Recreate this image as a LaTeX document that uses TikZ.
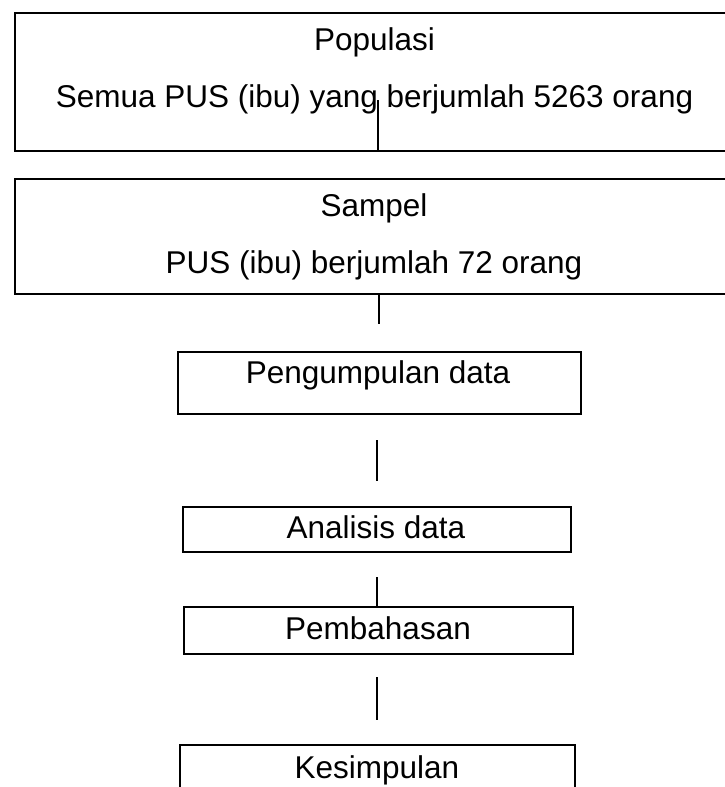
\documentclass[tikz,border=0pt]{standalone}
\usepackage{fontspec}
\setmainfont{Liberation Sans}
\begin{document}
\begin{tikzpicture}[x=1pt,y=-1pt,
  boxst/.style={draw=black,line width=1.8pt,rectangle,inner sep=0pt,anchor=north west},
  txt/.style={anchor=base,inner sep=0pt,font=\fontsize{31.5}{38}\selectfont},
  conn/.style={draw=black,line width=1.4pt}]
\useasboundingbox (0,0) rectangle (724,787);
% boxes
\node[boxst,minimum width=720pt,minimum height=138pt] (pop) at (14,12) {};
\node[boxst,minimum width=720pt,minimum height=115pt] (sam) at (14,178) {};
\node[boxst,minimum width=403pt,minimum height=62pt] (peng) at (177,351) {};
\node[boxst,minimum width=388pt,minimum height=45pt] (anal) at (182,506) {};
\node[boxst,minimum width=389pt,minimum height=47pt] (pemb) at (183,606) {};
\node[boxst,minimum width=395pt,minimum height=60pt] (kes) at (179,744) {};
% texts
\node[txt] (t1) at (374.5,50) {Populasi};
\node[txt] (t2) at (374.5,107) {Semua PUS (ibu) yang berjumlah 5263 orang};
\node[txt] (t3) at (374,216) {Sampel};
\node[txt] (t4) at (374,273) {PUS (ibu) berjumlah 72 orang};
\node[txt] (t5) at (378,383) {Pengumpulan data};
\node[txt] (t6) at (376,538) {Analisis data};
\node[txt] (t7) at (378,639) {Pembahasan};
\node[txt] (t8) at (377,778) {Kesimpulan};
% connector ends
\coordinate (c1a) at (378,100);
\coordinate (c2b) at (379,324);
\coordinate (c3a) at (377,440);
\coordinate (c3b) at (377,481);
\coordinate (c4a) at (377,577);
\coordinate (c5a) at (377,677);
\coordinate (c5b) at (377,720);
% connectors
\draw[conn] (c1a) -- (c1a |- pop.south);
\draw[conn] (c2b |- sam.south) -- (c2b);
\draw[conn] (c3a) -- (c3b);
\draw[conn] (c4a) -- (c4a |- pemb.north);
\draw[conn] (c5a) -- (c5b);
\end{tikzpicture}
\end{document}
